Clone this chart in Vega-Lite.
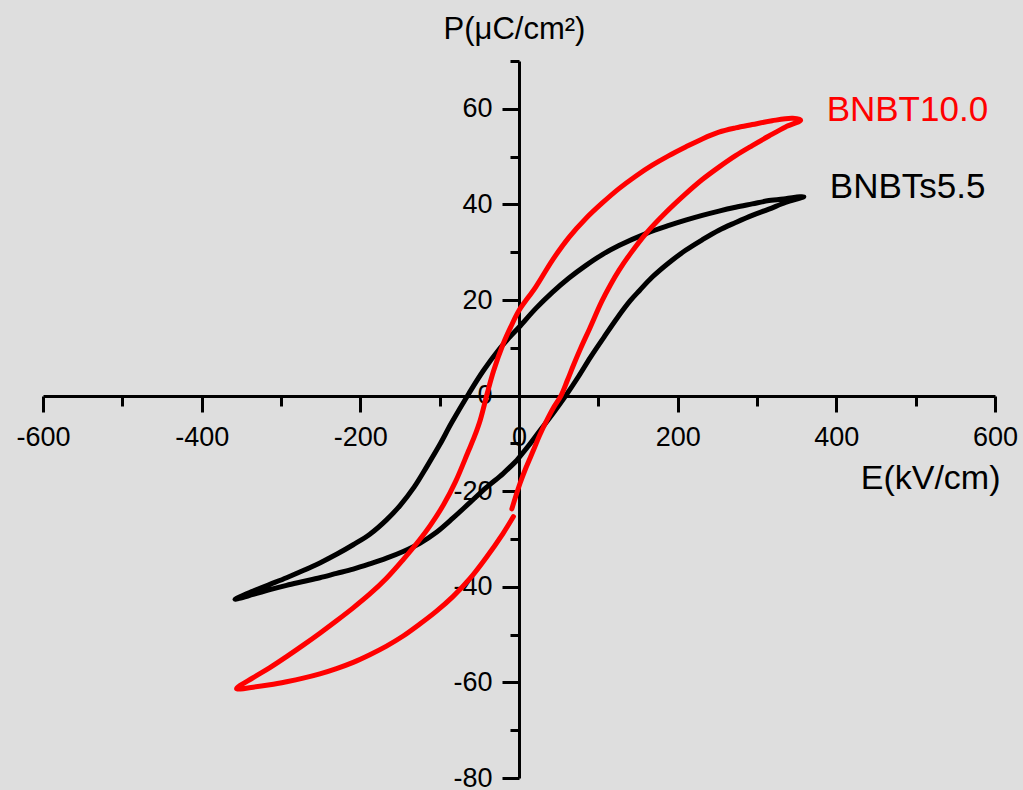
{
  "$schema": "https://vega.github.io/schema/vega-lite/v6.json",
  "width": 952,
  "height": 717,
  "autosize": {"type": "none"},
  "padding": {"left": 43, "top": 61, "right": 28, "bottom": 12},
  "background": "#dedede",
  "config": {"view": {"stroke": null}, "font": "Liberation Sans"},
  "datasets": {
    "loops": [
      {"s":"BNBTs5.5","E":-3,"P":-13.6},{"s":"BNBTs5.5","E":12,"P":-10.5},{"s":"BNBTs5.5","E":26.5,"P":-7.3},{"s":"BNBTs5.5","E":43,"P":-3.7},{"s":"BNBTs5.5","E":59,"P":0},{"s":"BNBTs5.5","E":75,"P":4},{"s":"BNBTs5.5","E":90,"P":8},{"s":"BNBTs5.5","E":107,"P":12.2},{"s":"BNBTs5.5","E":124,"P":16.3},{"s":"BNBTs5.5","E":140,"P":19.8},{"s":"BNBTs5.5","E":152,"P":22},{"s":"BNBTs5.5","E":168,"P":24.8},{"s":"BNBTs5.5","E":189,"P":27.8},{"s":"BNBTs5.5","E":210,"P":30.4},{"s":"BNBTs5.5","E":231,"P":32.6},{"s":"BNBTs5.5","E":252,"P":34.6},{"s":"BNBTs5.5","E":273,"P":36.2},{"s":"BNBTs5.5","E":294,"P":37.7},{"s":"BNBTs5.5","E":315,"P":39},{"s":"BNBTs5.5","E":336,"P":40.4},{"s":"BNBTs5.5","E":359,"P":41.6},
      {"s":"BNBTs5.5","E":336,"P":41.2},{"s":"BNBTs5.5","E":315,"P":40.8},{"s":"BNBTs5.5","E":294,"P":40.1},{"s":"BNBTs5.5","E":273,"P":39.4},{"s":"BNBTs5.5","E":252,"P":38.6},{"s":"BNBTs5.5","E":231,"P":37.7},{"s":"BNBTs5.5","E":210,"P":36.7},{"s":"BNBTs5.5","E":189,"P":35.6},{"s":"BNBTs5.5","E":160,"P":33.9},{"s":"BNBTs5.5","E":126,"P":31.4},{"s":"BNBTs5.5","E":105,"P":29.5},{"s":"BNBTs5.5","E":84,"P":27.2},{"s":"BNBTs5.5","E":63,"P":24.6},{"s":"BNBTs5.5","E":42,"P":21.6},{"s":"BNBTs5.5","E":21,"P":18.2},{"s":"BNBTs5.5","E":0,"P":14.3},{"s":"BNBTs5.5","E":-12,"P":12.2},{"s":"BNBTs5.5","E":-24,"P":9.9},{"s":"BNBTs5.5","E":-45,"P":5.2},{"s":"BNBTs5.5","E":-63,"P":0.5},{"s":"BNBTs5.5","E":-85,"P":-5.7},{"s":"BNBTs5.5","E":-100,"P":-10.3},{"s":"BNBTs5.5","E":-116,"P":-14.8},{"s":"BNBTs5.5","E":-132,"P":-19.1},{"s":"BNBTs5.5","E":-150,"P":-23},{"s":"BNBTs5.5","E":-167,"P":-26},{"s":"BNBTs5.5","E":-188,"P":-29},{"s":"BNBTs5.5","E":-209,"P":-31.2},{"s":"BNBTs5.5","E":-230,"P":-33.2},{"s":"BNBTs5.5","E":-251,"P":-35},{"s":"BNBTs5.5","E":-272,"P":-36.6},{"s":"BNBTs5.5","E":-293,"P":-38.1},{"s":"BNBTs5.5","E":-314,"P":-39.5},{"s":"BNBTs5.5","E":-335,"P":-40.9},{"s":"BNBTs5.5","E":-358,"P":-42.6},
      {"s":"BNBTs5.5","E":-335,"P":-41.6},{"s":"BNBTs5.5","E":-314,"P":-40.6},{"s":"BNBTs5.5","E":-293,"P":-39.7},{"s":"BNBTs5.5","E":-272,"P":-38.9},{"s":"BNBTs5.5","E":-251,"P":-38.1},{"s":"BNBTs5.5","E":-230,"P":-37.2},{"s":"BNBTs5.5","E":-209,"P":-36.3},{"s":"BNBTs5.5","E":-188,"P":-35.2},{"s":"BNBTs5.5","E":-167,"P":-34},{"s":"BNBTs5.5","E":-146,"P":-32.6},{"s":"BNBTs5.5","E":-125,"P":-30.9},{"s":"BNBTs5.5","E":-104,"P":-28.6},{"s":"BNBTs5.5","E":-83,"P":-25.6},{"s":"BNBTs5.5","E":-62,"P":-22.4},{"s":"BNBTs5.5","E":-41,"P":-19.2},{"s":"BNBTs5.5","E":-20,"P":-16.3},{"s":"BNBTs5.5","E":-3,"P":-13.6},
      {"s":"BNBT10.0","E":-9,"P":-23.7},{"s":"BNBT10.0","E":1,"P":-18.5},{"s":"BNBT10.0","E":9,"P":-15},{"s":"BNBT10.0","E":18,"P":-11.5},{"s":"BNBT10.0","E":26,"P":-8.3},{"s":"BNBT10.0","E":35,"P":-5.2},{"s":"BNBT10.0","E":44,"P":-2.4},{"s":"BNBT10.0","E":53,"P":0},{"s":"BNBT10.0","E":61,"P":3.2},{"s":"BNBT10.0","E":69,"P":6.5},{"s":"BNBT10.0","E":78,"P":10},{"s":"BNBT10.0","E":89,"P":14},{"s":"BNBT10.0","E":104,"P":19.6},{"s":"BNBT10.0","E":115,"P":23.1},{"s":"BNBT10.0","E":126,"P":26.2},{"s":"BNBT10.0","E":140,"P":29.6},{"s":"BNBT10.0","E":160,"P":33.9},{"s":"BNBT10.0","E":185,"P":38.3},{"s":"BNBT10.0","E":210,"P":42.2},{"s":"BNBT10.0","E":231,"P":45.2},{"s":"BNBT10.0","E":252,"P":47.8},{"s":"BNBT10.0","E":273,"P":50.2},{"s":"BNBT10.0","E":294,"P":52.3},{"s":"BNBT10.0","E":315,"P":54.3},{"s":"BNBT10.0","E":336,"P":56.2},{"s":"BNBT10.0","E":355,"P":57.6},
      {"s":"BNBT10.0","E":345,"P":58},{"s":"BNBT10.0","E":319,"P":57.5},{"s":"BNBT10.0","E":294,"P":56.7},{"s":"BNBT10.0","E":273,"P":56},{"s":"BNBT10.0","E":252,"P":55.1},{"s":"BNBT10.0","E":231,"P":53.7},{"s":"BNBT10.0","E":210,"P":52},{"s":"BNBT10.0","E":189,"P":50.2},{"s":"BNBT10.0","E":168,"P":48.2},{"s":"BNBT10.0","E":147,"P":45.9},{"s":"BNBT10.0","E":126,"P":43.3},{"s":"BNBT10.0","E":105,"P":40.3},{"s":"BNBT10.0","E":84,"P":37},{"s":"BNBT10.0","E":63,"P":33.1},{"s":"BNBT10.0","E":42,"P":28.3},{"s":"BNBT10.0","E":21,"P":22.7},{"s":"BNBT10.0","E":0,"P":17.8},{"s":"BNBT10.0","E":-10,"P":14.5},{"s":"BNBT10.0","E":-20,"P":10.8},{"s":"BNBT10.0","E":-32,"P":5.2},{"s":"BNBT10.0","E":-40,"P":0.5},{"s":"BNBT10.0","E":-49,"P":-5.2},{"s":"BNBT10.0","E":-56,"P":-8.5},{"s":"BNBT10.0","E":-64,"P":-11.7},{"s":"BNBT10.0","E":-80,"P":-18},{"s":"BNBT10.0","E":-95,"P":-22.8},{"s":"BNBT10.0","E":-112,"P":-27.2},{"s":"BNBT10.0","E":-125,"P":-30.1},{"s":"BNBT10.0","E":-146,"P":-34.3},{"s":"BNBT10.0","E":-167,"P":-38.2},{"s":"BNBT10.0","E":-188,"P":-41.5},{"s":"BNBT10.0","E":-209,"P":-44.4},{"s":"BNBT10.0","E":-230,"P":-47.1},{"s":"BNBT10.0","E":-251,"P":-49.7},{"s":"BNBT10.0","E":-272,"P":-52.2},{"s":"BNBT10.0","E":-293,"P":-54.6},{"s":"BNBT10.0","E":-314,"P":-56.9},{"s":"BNBT10.0","E":-335,"P":-59},{"s":"BNBT10.0","E":-356,"P":-61.3},
      {"s":"BNBT10.0","E":-335,"P":-61},{"s":"BNBT10.0","E":-314,"P":-60.5},{"s":"BNBT10.0","E":-293,"P":-59.85},{"s":"BNBT10.0","E":-272,"P":-59.1},{"s":"BNBT10.0","E":-251,"P":-58.2},{"s":"BNBT10.0","E":-230,"P":-57.1},{"s":"BNBT10.0","E":-209,"P":-55.8},{"s":"BNBT10.0","E":-188,"P":-54.2},{"s":"BNBT10.0","E":-167,"P":-52.4},{"s":"BNBT10.0","E":-146,"P":-50.3},{"s":"BNBT10.0","E":-125,"P":-47.8},{"s":"BNBT10.0","E":-104,"P":-45.1},{"s":"BNBT10.0","E":-83,"P":-42},{"s":"BNBT10.0","E":-62,"P":-38.3},{"s":"BNBT10.0","E":-41,"P":-33.8},{"s":"BNBT10.0","E":-20,"P":-28.8},{"s":"BNBT10.0","E":-7,"P":-25.3}
    ]
  },
  "data": {"name": "loops"},
  "encoding": {
    "x": {
      "field": "E", "type": "quantitative",
      "scale": {"domain": [-600, 600], "nice": false, "zero": false},
      "axis": {
        "orient": "bottom", "offset": -382,
        "values": [-600,-500,-400,-300,-200,-100,0,100,200,300,400,500,600],
        "labelExpr": "datum.value % 200 === 0 ? '' + datum.value : ''",
        "tickSize": {"condition": {"test": "datum.value % 200 !== 0", "value": 10}, "value": 16},
        "grid": false, "domainColor": "black", "domainWidth": 3, "tickColor": "black", "tickWidth": 3,
        "labelFontSize": 27, "labelColor": "black", "labelPadding": 12, "labelOverlap": false, "labelFlush": false,
        "title": "E(kV/cm)", "titleFontSize": 34, "titleFontWeight": "normal", "titleColor": "black",
        "titleAlign": "right", "titleBaseline": "alphabetic", "titleX": 957, "titleY": 92
      }
    },
    "y": {
      "field": "P", "type": "quantitative",
      "scale": {"domain": [-80, 70], "nice": false, "zero": false},
      "axis": {
        "orient": "left", "offset": -476,
        "values": [-80,-70,-60,-50,-40,-30,-20,-10,0,10,20,30,40,50,60,70],
        "labelExpr": "datum.value % 20 === 0 ? '' + datum.value : ''",
        "tickSize": {"condition": {"test": "datum.value % 20 !== 0", "value": 9}, "value": 17},
        "grid": false, "domainColor": "black", "domainWidth": 3, "tickColor": "black", "tickWidth": 3,
        "labelFontSize": 27, "labelColor": "black", "labelPadding": 10, "labelOverlap": false, "labelFlush": false,
        "title": "P(μC/cm²)", "titleFontSize": 31, "titleFontWeight": "normal", "titleColor": "black",
        "titleAngle": 0, "titleAlign": "center", "titleBaseline": "alphabetic", "titleX": -5, "titleY": -23
      }
    },
    "color": {
      "field": "s", "type": "nominal",
      "scale": {"domain": ["BNBT10.0", "BNBTs5.5"], "range": ["#ff0000", "#000000"]},
      "legend": null
    }
  },
  "layer": [
    {
      "transform": [{"filter": "datum.s === 'BNBTs5.5'"}],
      "mark": {"type": "line", "strokeWidth": 5, "strokeJoin": "round", "strokeCap": "round", "interpolate": "catmull-rom"},
      "encoding": {"order": {"value": null}}
    },
    {
      "transform": [{"filter": "datum.s === 'BNBT10.0'"}],
      "mark": {"type": "line", "strokeWidth": 5, "strokeJoin": "round", "strokeCap": "round", "interpolate": "catmull-rom"},
      "encoding": {"order": {"value": null}}
    },
    {
      "transform": [
        {"joinaggregate": [{"op": "max", "field": "E", "as": "mx"}], "groupby": ["s"]},
        {"filter": "datum.E === datum.mx"}
      ],
      "mark": {"type": "text", "align": "left", "baseline": "alphabetic", "fontSize": 35, "dx": 26, "dy": 1},
      "encoding": {"text": {"field": "s"}}
    }
  ]
}
